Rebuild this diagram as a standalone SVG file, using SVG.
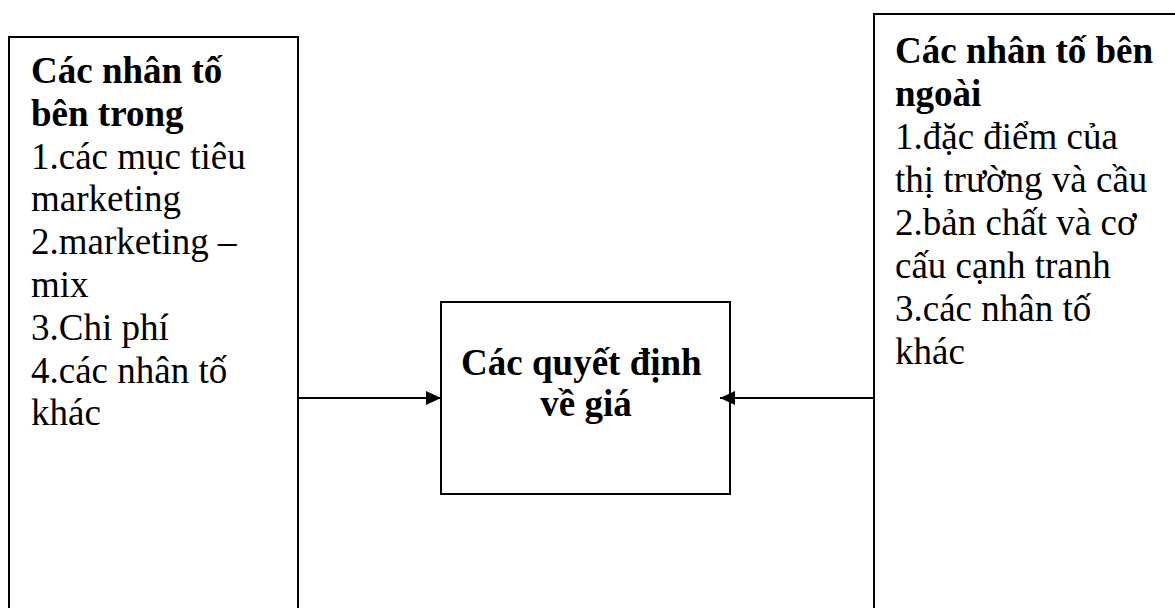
<svg xmlns="http://www.w3.org/2000/svg" width="1175" height="608" viewBox="0 0 1175 608">
  <style>
    .box { fill: #ffffff; stroke: #000000; stroke-width: 2; }
    .txt { font-family: "Liberation Serif", "Times New Roman", serif; font-size: 37px; fill: #000000; }
    .b { font-weight: bold; }
    .link { stroke: #000000; stroke-width: 2; fill: none; }
  </style>
  <defs>
    <marker id="arrow" markerWidth="16" markerHeight="14" refX="15" refY="7" orient="auto" markerUnits="userSpaceOnUse">
      <path d="M0,0 L15,7 L0,14 Z" fill="#000000"/>
    </marker>
  </defs>
  <rect width="1175" height="608" fill="#ffffff"/>

  <!-- internal factors -->
  <g id="internal">
    <rect class="box" x="9" y="37" width="289" height="620"/>
    <text class="txt" x="31" y="83">
      <tspan class="b" x="31" y="83">Các nhân tố</tspan>
      <tspan class="b" x="31" y="125.8">bên trong</tspan>
      <tspan x="31" y="168.6">1.các mục tiêu</tspan>
      <tspan x="31" y="211.4">marketing</tspan>
      <tspan x="31" y="254.2">2.marketing –</tspan>
      <tspan x="31" y="297">mix</tspan>
      <tspan x="31" y="339.8">3.Chi phí</tspan>
      <tspan x="31" y="382.6">4.các nhân tố</tspan>
      <tspan x="31" y="425.4">khác</tspan>
    </text>
  </g>

  <!-- pricing decisions -->
  <g id="decisions">
    <rect class="box" x="441" y="302" width="289" height="192"/>
    <text class="txt b" text-anchor="middle">
      <tspan x="586" y="375">Các quyết định</tspan>
      <tspan x="586" y="416">về giá</tspan>
    </text>
  </g>

  <!-- external factors -->
  <g id="external">
    <rect class="box" x="874" y="14" width="400" height="650"/>
    <text class="txt" x="895" y="63">
      <tspan class="b" x="895" y="63">Các nhân tố bên</tspan>
      <tspan class="b" x="895" y="106">ngoài</tspan>
      <tspan x="895" y="149">1.đặc điểm của</tspan>
      <tspan x="895" y="192">thị trường và cầu</tspan>
      <tspan x="895" y="235">2.bản chất và cơ</tspan>
      <tspan x="895" y="278">cấu cạnh tranh</tspan>
      <tspan x="895" y="321">3.các nhân tố</tspan>
      <tspan x="895" y="364">khác</tspan>
    </text>
  </g>

  <!-- connectors -->
  <g id="connectors">
    <line class="link" x1="298" y1="398" x2="441" y2="398" marker-end="url(#arrow)"/>
    <line class="link" x1="874" y1="398" x2="720" y2="398" marker-end="url(#arrow)"/>
  </g>
</svg>
